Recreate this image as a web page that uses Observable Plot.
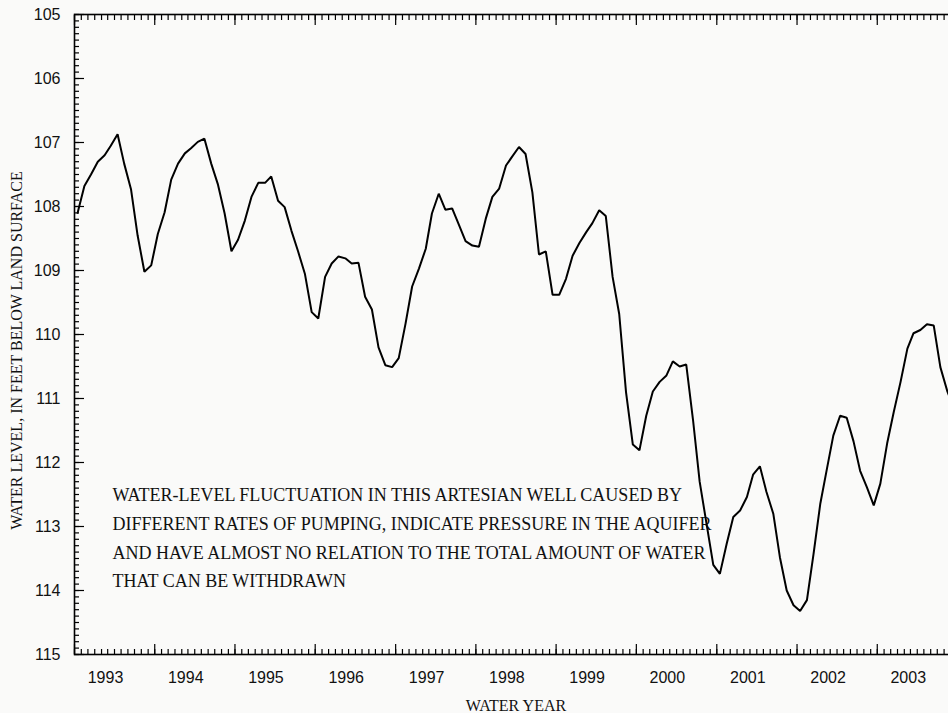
<!DOCTYPE html>
<html>
<head>
<meta charset="utf-8">
<script src="https://cdn.jsdelivr.net/npm/d3@7"></script>
<script src="https://cdn.jsdelivr.net/npm/@observablehq/plot@0.6"></script>
<style>
  html, body { margin: 0; padding: 0; background: #fafaf9; overflow: hidden; }
  #chart { width: 990px; }
  #chart svg { max-width: none !important; display: block; }
</style>
</head>
<body>
<div id="chart"></div>
<script>
// Monthly water levels (feet below land surface), starting October 1992 (WY1993)
const startYear = 1992;
const startMonth = 9; // October (0-based)
const level = [
  108.10, 107.68, 107.50, 107.30, 107.20, 107.05, 106.87, 107.33, 107.73, 108.45, 109.02, 108.92,
  108.43, 108.09, 107.58, 107.33, 107.17, 107.09, 106.99, 106.94, 107.33, 107.65, 108.11, 108.70,
  108.52, 108.22, 107.85, 107.63, 107.63, 107.53, 107.91, 108.01, 108.38, 108.70, 109.05, 109.65,
  109.75, 109.10, 108.89, 108.78, 108.81, 108.89, 108.88, 109.41, 109.61, 110.20, 110.48, 110.51,
  110.37, 109.83, 109.25, 108.97, 108.66, 108.11, 107.80, 108.05, 108.03, 108.28, 108.54, 108.61,
  108.63, 108.19, 107.85, 107.72, 107.36, 107.22, 107.07, 107.18, 107.78, 108.75, 108.70, 109.38,
  109.38, 109.13, 108.77, 108.57, 108.40, 108.26, 108.06, 108.15, 109.10, 109.68, 110.90, 111.72,
  111.81, 111.27, 110.89, 110.74, 110.64, 110.42, 110.50, 110.47, 111.34, 112.30, 112.95, 113.60,
  113.74, 113.27, 112.85, 112.75, 112.54, 112.19, 112.06, 112.46, 112.80, 113.48, 114.00, 114.23,
  114.32, 114.15, 113.43, 112.64, 112.08, 111.58, 111.27, 111.30, 111.67, 112.13, 112.39, 112.67,
  112.33, 111.70, 111.21, 110.74, 110.22, 109.98, 109.93, 109.84, 109.86, 110.51, 110.88, 111.15
];
const waterYears = [1993, 1994, 1995, 1996, 1997, 1998, 1999, 2000, 2001, 2002, 2003];
const yLabels = [105, 106, 107, 108, 109, 110, 111, 112, 113, 114, 115];
const yTitle = "WATER LEVEL, IN FEET BELOW LAND SURFACE";
const xTitle = "WATER YEAR";
const note = [
  "WATER-LEVEL FLUCTUATION IN THIS ARTESIAN WELL CAUSED BY",
  "DIFFERENT RATES OF PUMPING, INDICATE PRESSURE IN THE AQUIFER",
  "AND HAVE ALMOST NO RELATION TO THE TOTAL AMOUNT OF WATER",
  "THAT CAN BE WITHDRAWN"
];

const data = level.map((v, i) => ({date: new Date(Date.UTC(startYear, startMonth + i, 15)), level: v}));
const yearStarts = waterYears.map(y => new Date(Date.UTC(y - 1, 9, 1)));
const domainStart = yearStarts[0];
const domainEnd = new Date(Date.UTC(waterYears[waterYears.length - 1], 9, 1));
const monthTicks = d3.utcMonth.range(domainStart, new Date(+domainEnd + 1));
const yMinor = d3.range(yLabels[0] * 10, yLabels[yLabels.length - 1] * 10 + 1).map(d => d / 10);

const sans = "'Liberation Sans', Arial, Helvetica, sans-serif";
const serif = "'Liberation Serif', 'Times New Roman', Times, serif";
const tickStyle = {stroke: "black", strokeWidth: 1.2, fill: "none", label: null};

const chart = Plot.plot({
  width: 990,
  height: 713,
  marginLeft: 74,
  marginRight: 33,
  marginTop: 14,
  marginBottom: 59,
  style: {background: "#fafaf9", color: "black", fontFamily: sans, maxWidth: "none"},
  x: {type: "utc", domain: [domainStart, domainEnd]},
  y: {domain: [yLabels[0], yLabels[yLabels.length - 1]], reverse: true},
  marks: [
    Plot.text([note.join("\n")], {
      frameAnchor: "bottom-left", dx: 38, dy: -119.5, textAnchor: "start",
      lineAnchor: "middle", lineHeight: 1.6, fontSize: 18, fontFamily: serif, fill: "#111"
    }),
    Plot.line(data, {x: "date", y: "level", stroke: "black", strokeWidth: 2, strokeLinejoin: "miter"}),
    Plot.frame({stroke: "black", strokeWidth: 1.6}),
    // inward ticks: left & right
    Plot.axisY(yMinor, {anchor: "left", tickSize: 5, dx: 5, ...tickStyle}),
    Plot.axisY(yLabels, {anchor: "left", tickSize: 10, dx: 10, ...tickStyle}),
    Plot.axisY(yMinor, {anchor: "right", tickSize: 5, dx: -5, ...tickStyle}),
    Plot.axisY(yLabels, {anchor: "right", tickSize: 10, dx: -10, ...tickStyle}),
    // inward ticks: bottom & top
    Plot.axisX(monthTicks, {anchor: "bottom", tickSize: 5, dy: -5, ...tickStyle}),
    Plot.axisX(yearStarts, {anchor: "bottom", tickSize: 10, dy: -10, ...tickStyle}),
    Plot.axisX(monthTicks, {anchor: "top", tickSize: 5, dy: 5, ...tickStyle}),
    Plot.axisX(yearStarts, {anchor: "top", tickSize: 10, dy: 10, ...tickStyle}),
    // tick labels
    Plot.axisY(yLabels, {
      anchor: "left", tickSize: 0, tickPadding: 14, fontSize: 16, fontFamily: sans, fill: "#111", label: null,
      tickFormat: d => String(d)
    }),
    Plot.axisX(yearStarts, {
      anchor: "bottom", tickSize: 0, tickPadding: 17, dx: 31, fontSize: 16, fontFamily: sans, fill: "#111", label: null,
      tickFormat: d => String(d.getUTCFullYear() + 1)
    }),
    // axis titles
    Plot.text([yTitle], {
      frameAnchor: "left", textAnchor: "middle", rotate: -90, dx: -58, dy: 16,
      fontSize: 16, fontFamily: serif, fill: "#111"
    }),
    Plot.text([xTitle], {frameAnchor: "bottom", textAnchor: "middle", dy: 56, fontSize: 16, fontFamily: serif, fill: "#111"})
  ]
});
document.getElementById("chart").appendChild(chart);
</script>
</body>
</html>
